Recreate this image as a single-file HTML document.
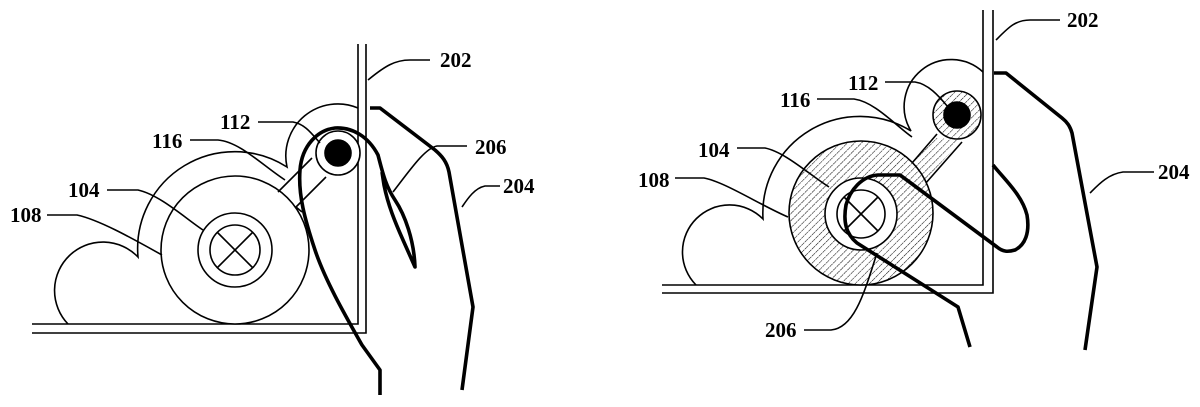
<!DOCTYPE html>
<html><head><meta charset="utf-8"><style>
html,body{margin:0;padding:0;background:#fff;}
svg{display:block;}
text{font-family:"Liberation Serif",serif;font-weight:bold;font-size:21px;fill:#000;}
</style></head><body>
<svg width="1200" height="407" viewBox="0 0 1200 407" xmlns="http://www.w3.org/2000/svg">
<defs>
<pattern id="h" patternUnits="userSpaceOnUse" width="5" height="5" patternTransform="rotate(45)">
<rect width="5" height="5" fill="#fff"/>
<line x1="0" y1="0" x2="0" y2="5" stroke="#000" stroke-width="1.1" stroke-dasharray="2,0.7"/>
</pattern>
</defs>
<g fill="none" stroke="#000" stroke-width="1.6">
<!-- LEFT FIGURE -->
<polyline points="358,44 358,324 32,324"/>
<polyline points="366,44 366,333 32,333"/>
<path d="M68,324 A45,45 0 0 1 138,257 A97,97 0 0 1 287,167 A52,52 0 0 1 358,108"/>
<circle cx="235" cy="250" r="74" fill="#fff"/>
<circle cx="235" cy="250" r="37"/>
<circle cx="235" cy="250" r="25"/>
<line x1="217" y1="232" x2="253" y2="268"/><line x1="253" y1="232" x2="217" y2="268"/>
<path d="M278,192 L312,158"/>
<path d="M296,207 L326,177"/>
<path d="M296,207 L302,212"/>
<circle cx="338" cy="153" r="22" fill="#fff"/>
<circle cx="338" cy="153" r="13" fill="#000"/>
<path d="M368,80 C385,66 395,60 410,60 L430,60"/>
<path d="M258,122 L293,122 C305,124 312,134 320,143"/>
<path d="M190,140 L218,140 C240,142 262,165 285,180"/>
<path d="M107,190 L138,190 C160,195 185,218 203,230"/>
<path d="M47,215 L77,215 C100,220 135,240 162,255"/>
<path d="M467,146 L437,146 C425,148 410,170 393,192"/>
<path d="M500,186 L485,186 C475,188 468,198 462,207"/>
</g>
<g fill="none" stroke="#000" stroke-width="3.6" stroke-linejoin="round">
<path d="M380,395 L380,370 L362,345 C345,315 325,280 315,250 C305,220 298,195 300,170 C302,145 318,130 335,128 C352,127 368,136 378,155 C382,170 385,185 395,200 C405,215 414,240 415,267 L403,240 C395,222 388,205 384,185 L382,172"/>
<path d="M370,108 L380,108 L435,150 C442,156 447,162 449,172 L473,307 L462,390"/>
</g>
<g fill="none" stroke="#000" stroke-width="1.6">
<!-- RIGHT FIGURE -->
<polyline points="983,10 983,285 662,285"/>
<polyline points="993,10 993,293 662,293"/>
<path d="M696,285 A44,44 0 0 1 763,219 A97,97 0 0 1 911,131 A47,47 0 0 1 983,72"/>
<path d="M906,168 L935,138 L962,140 L925,180 Z" fill="url(#h)" stroke="none"/>
<line x1="906" y1="170" x2="937" y2="134"/>
<line x1="925" y1="184" x2="962" y2="142"/>
<circle cx="861" cy="213" r="72" fill="url(#h)"/>
<circle cx="861" cy="214" r="36" fill="#fff"/>
<circle cx="861" cy="214" r="24"/>
<line x1="844" y1="197" x2="878" y2="231"/><line x1="878" y1="197" x2="844" y2="231"/>
<circle cx="957" cy="115" r="24" fill="url(#h)"/>
<circle cx="957" cy="115" r="13" fill="#000"/>
<path d="M996,40 C1008,28 1015,20 1030,20 L1060,20"/>
<path d="M885,82 L915,82 C928,84 938,95 948,107"/>
<path d="M817,99 L854,99 C875,102 895,125 912,137"/>
<path d="M737,148 L765,148 C785,152 810,175 829,187"/>
<path d="M675,178 L704,178 C725,182 760,205 788,217"/>
<path d="M804,330 L831,330 C855,328 865,290 877,253"/>
<path d="M1154,172 L1123,172 C1108,174 1098,185 1090,193"/>
</g>
<g fill="none" stroke="#000" stroke-width="3.6" stroke-linejoin="round">
<path d="M970,347 L958,307 L857,243 C846,234 843,222 846,205 C850,190 862,176 878,175 L900,175 L997,247 C1003,252 1008,252 1015,250 C1025,245 1030,233 1027,215 C1022,195 1005,180 993,165"/>
<path d="M994,73 L1006,73 L1062,118 C1067,122 1070,126 1072,133 L1097,267 L1085,350"/>
</g>
<text x="440" y="67">202</text>
<text x="220" y="129">112</text>
<text x="152" y="148">116</text>
<text x="68" y="197">104</text>
<text x="10" y="222">108</text>
<text x="475" y="154">206</text>
<text x="503" y="193">204</text>
<text x="1067" y="27">202</text>
<text x="848" y="90">112</text>
<text x="780" y="107">116</text>
<text x="698" y="157">104</text>
<text x="638" y="187">108</text>
<text x="765" y="337">206</text>
<text x="1158" y="179">204</text>
</svg>
</body></html>
